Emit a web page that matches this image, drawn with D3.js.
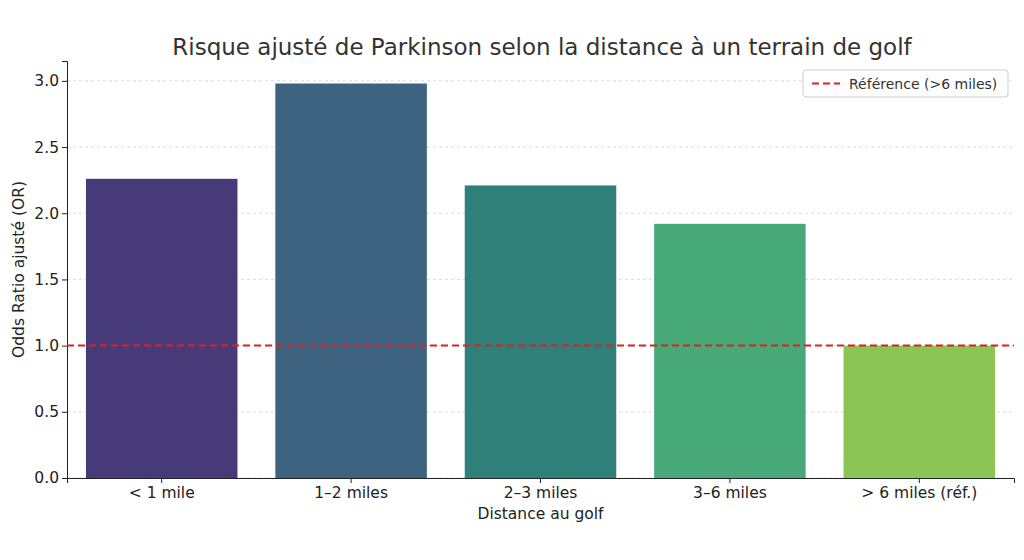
<!DOCTYPE html>
<html><head><meta charset="utf-8">
<script src="https://cdn.jsdelivr.net/npm/d3@7"></script>
<style>body{margin:0;background:#fff;font-family:"DejaVu Sans",sans-serif;}</style>
</head><body><div id="chart"></div>
<script>
const categories = ['< 1 mile', '1–2 miles', '2–3 miles', '3–6 miles', '> 6 miles (réf.)'];
const oddsRatios = [2.26, 2.98, 2.21, 1.92, 1.0];
const barColors = ['#463a78', '#3d6380', '#2e8079', '#47a978', '#8bc556'];
const yTicks = [0, 0.5, 1.0, 1.5, 2.0, 2.5, 3.0];
const refValue = 1.0;

const W = 1024, H = 560;
const m = { left: 67, right: 10, top: 61, bottom: 82 };
const svg = d3.select('#chart').append('svg').attr('width', W).attr('height', H);
const chart = svg.append('g').attr('transform', `translate(${m.left}, ${m.top})`);
const X = W - m.left - m.right;
const Y = H - m.top - m.bottom;

const xScale = d3.scaleBand().domain(categories).range([0, X]).paddingInner(0.2).paddingOuter(0.1);
const yScale = d3.scaleLinear().domain([0, 3.15]).range([Y, 0]);

// Grid lines
chart.selectAll('.grid').data(yTicks).enter().append('line')
  .attr('x1', 0).attr('x2', X)
  .attr('y1', (d) => yScale(d)).attr('y2', (d) => yScale(d))
  .attr('stroke', '#d0d0d0').attr('stroke-dasharray', '3,3').attr('stroke-width', 0.8);

// Bars
chart.selectAll('rect').data(oddsRatios).enter().append('rect')
  .attr('x', (d, i) => xScale(categories[i]))
  .attr('y', (d) => yScale(d))
  .attr('width', xScale.bandwidth())
  .attr('height', (d) => Y - yScale(d))
  .attr('fill', (d, i) => barColors[i]);

// Axes
const xAxis = chart.append('g').attr('transform', `translate(0, ${Y})`)
  .call(d3.axisBottom(xScale).tickSizeOuter(0).tickSize(5));
const yAxis = chart.append('g')
  .call(d3.axisLeft(yScale).tickValues(yTicks).tickFormat(d3.format('.1f')).tickSizeOuter(0).tickSize(5));
[xAxis, yAxis].forEach((a) => {
  a.selectAll('text').attr('font-size', 15.5).attr('fill', '#222').attr('font-family', 'DejaVu Sans');
  a.selectAll('line, path').attr('stroke', '#222');
});
xAxis.selectAll('text').attr('dy', '0.75em');

// Reference line
chart.append('line')
  .attr('x1', 0).attr('x2', X)
  .attr('y1', yScale(refValue)).attr('y2', yScale(refValue))
  .attr('stroke', '#e0201c').attr('stroke-width', 2).attr('stroke-dasharray', '7,4');

// Legend
const lg = svg.append('g').attr('transform', 'translate(803, 70)');
lg.append('rect').attr('width', 205).attr('height', 27).attr('rx', 3)
  .attr('fill', '#fff').attr('stroke', '#ccc');
lg.append('line').attr('x1', 9).attr('x2', 37).attr('y1', 13.5).attr('y2', 13.5)
  .attr('stroke', '#e0201c').attr('stroke-width', 2).attr('stroke-dasharray', '7,4');
lg.append('text').attr('x', 46).attr('y', 18.5).attr('font-size', 14).attr('fill', '#333')
  .text('Référence (>6 miles)');

// Title and labels
svg.append('text').attr('x', 542).attr('y', 55).attr('text-anchor', 'middle')
  .attr('font-size', 23).attr('fill', '#333')
  .text('Risque ajusté de Parkinson selon la distance à un terrain de golf');
svg.append('text').attr('x', m.left + X / 2).attr('y', 519).attr('text-anchor', 'middle')
  .attr('font-size', 15.5).attr('fill', '#222').text('Distance au golf');
svg.append('text').attr('transform', `translate(24, ${m.top + Y / 2}) rotate(-90)`)
  .attr('text-anchor', 'middle').attr('font-size', 15.5).attr('fill', '#222')
  .text('Odds Ratio ajusté (OR)');
</script></body></html>
